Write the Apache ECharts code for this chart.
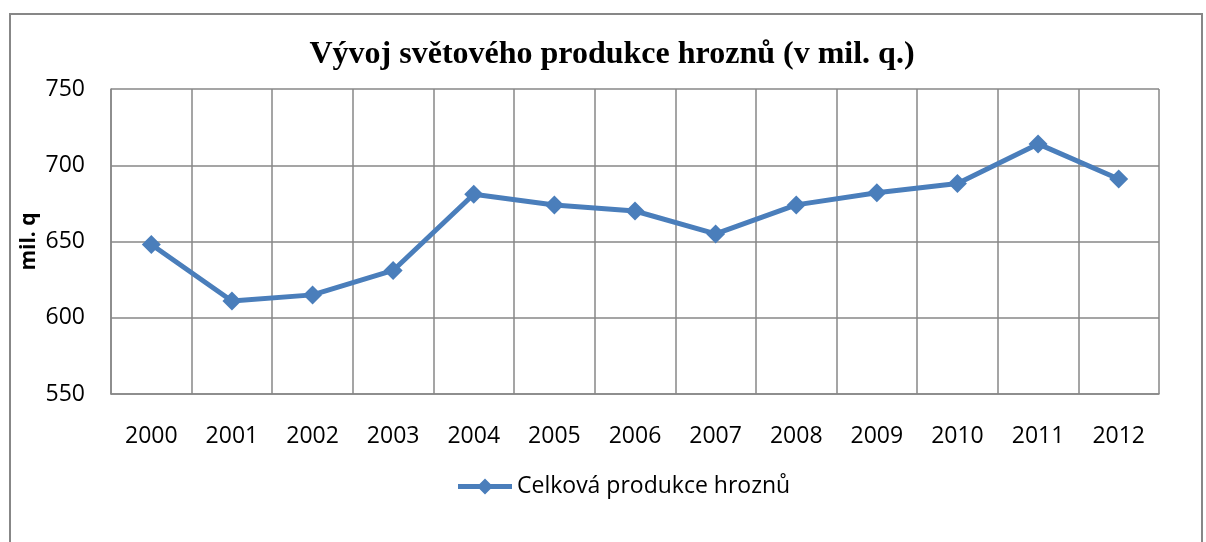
<!DOCTYPE html>
<html>
<head>
<meta charset="utf-8">
<script src="https://cdn.jsdelivr.net/npm/echarts@6/dist/echarts.min.js"></script>
<style>
  html, body { margin: 0; padding: 0; background: #fff; }
  #chart { width: 1206px; height: 542px; }
</style>
</head>
<body>
<div id="chart"></div>
<script>
  // data
  const years = ['2000', '2001', '2002', '2003', '2004', '2005', '2006',
                 '2007', '2008', '2009', '2010', '2011', '2012']
  const production = [648, 611, 615, 631, 681, 674, 670, 655, 674, 682, 688, 714, 691]
  const seriesName = 'Celková produkce hroznů'
  const chartTitle = 'Vývoj světového produkce hroznů (v mil. q.)'

  const gridColor = '#878787'
  const lineColor = '#4a7ebb'
  const labelFont = '"Open Sans", sans-serif'
  // thick line with a diamond in the middle, like the Excel legend key
  const legendIcon = 'path://M0,5.5H21.5L27,0L32.5,5.5H54V10.5H32.5L27,16L21.5,10.5H0Z'

  const chart = echarts.init(document.getElementById('chart'))
  chart.setOption({
    animation: false,
    graphic: [{
      type: 'rect',
      shape: { x: 10, y: 14, width: 1192, height: 600 },
      style: { fill: 'none', stroke: gridColor, lineWidth: 2 },
      silent: true
    }],
    title: {
      text: chartTitle,
      left: 607,
      textAlign: 'center',
      top: 34,
      textStyle: {
        fontFamily: '"Liberation Serif", serif',
        fontWeight: 'bold',
        fontSize: 32,
        color: '#000'
      }
    },
    grid: { left: 111, right: 47, top: 89, bottom: 148 },
    legend: {
      data: [{ name: seriesName, icon: legendIcon }],
      left: 453,
      top: 470,
      itemWidth: 54,
      itemHeight: 16,
      itemGap: 4,
      itemStyle: { color: lineColor },
      textStyle: { fontFamily: labelFont, fontSize: 23, color: '#000' }
    },
    xAxis: {
      type: 'category',
      data: years,
      boundaryGap: true,
      axisLine: { lineStyle: { color: gridColor, width: 1.5 } },
      axisTick: { show: false },
      axisLabel: { margin: 31, fontFamily: labelFont, fontSize: 23, color: '#000' },
      splitLine: { show: true, lineStyle: { color: gridColor, width: 1.5 } }
    },
    yAxis: {
      type: 'value',
      min: 550,
      max: 750,
      interval: 50,
      name: 'mil. q',
      nameLocation: 'middle',
      nameGap: 71,
      nameMoveOverlap: false,
      nameTextStyle: { fontFamily: labelFont, fontWeight: 'bold', fontSize: 21, color: '#000' },
      axisLine: { show: true, lineStyle: { color: gridColor, width: 1.5 } },
      axisTick: { show: false },
      axisLabel: { margin: 26, fontFamily: labelFont, fontSize: 23, color: '#000' },
      splitLine: { lineStyle: { color: gridColor, width: 1.5 } }
    },
    series: [{
      name: seriesName,
      type: 'line',
      data: production,
      symbol: 'diamond',
      symbolSize: 19,
      lineStyle: { color: lineColor, width: 5 },
      itemStyle: { color: lineColor }
    }]
  })
</script>
</body>
</html>
